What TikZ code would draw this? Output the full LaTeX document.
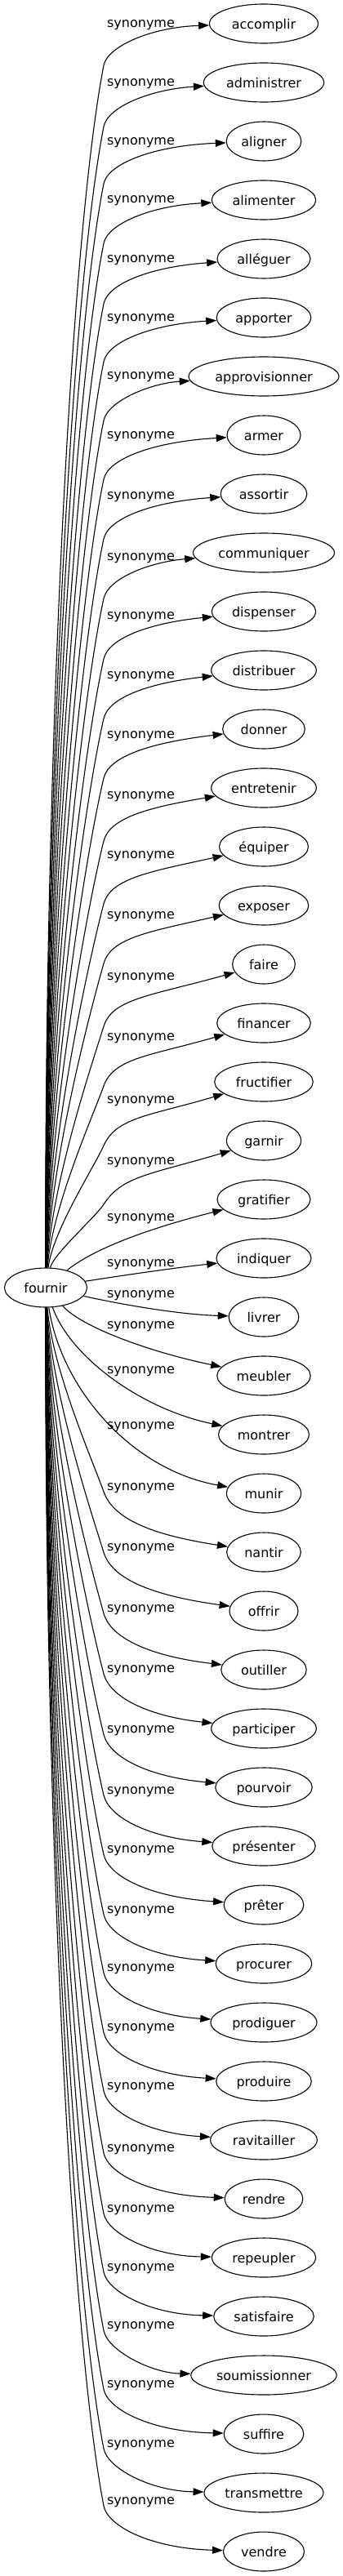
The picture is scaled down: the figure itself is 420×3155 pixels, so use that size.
\documentclass[tikz,border=0pt]{standalone}
\usepackage{fontspec}
\setmainfont{DejaVu Sans}
\usetikzlibrary{shapes.geometric,arrows.meta}
\begin{document}
\begin{tikzpicture}[x=1pt,y=-1pt,
  every node/.style={font=\fontsize{16}{19}\selectfont},
  word/.style={draw, ellipse, inner sep=0pt, minimum height=48pt, text height=13pt, text depth=0pt, line width=1.1pt},
  lbl/.style={inner sep=0pt, text height=11pt, text depth=0pt},
  syn/.style={line width=1.1pt, -{Triangle[length=13pt,width=9pt]}}]
\useasboundingbox (0,0) rectangle (420,3155);
\node[word, minimum width=101pt] (fournir) at (56,1577) {fournir};
\foreach \i/\word/\rx/\ly in {0/accomplir/66.5/28.3, 1/administrer/73.7/100, 2/aligner/45.8/172.3, 3/alimenter/63.7/243.3, 4/alléguer/57/315.7, 5/apporter/57.8/387.7, 6/approvisionner/92/459.3, 7/armer/45/532.3, 8/assortir/52.8/605.7, 9/communiquer/86.5/680.7, 10/dispenser/63.7/752.7, 11/distribuer/64.3/825.7, 12/donner/50.3/899.3, 13/entretenir/64.3/972.7, 14/équiper/54.5/1045.7, 15/exposer/54.8/1120, 16/faire/38.3/1195, 17/financer/57.3/1269.3, 18/fructifier/60.3/1345.7, 19/garnir/45.7/1421, 20/gratifier/57/1490, 21/indiquer/58/1545.7, 22/livrer/42.8/1584, 23/meubler/57.2/1622.3, 24/montrer/55.5/1677.3, 25/munir/45.7/1745, 26/nantir/45.3/1820, 27/offrir/42/1894.3, 28/outiller/52.2/1969, 29/participer/64.3/2043, 30/pourvoir/59.2/2117.3, 31/présenter/63.2/2191.7, 32/prêter/48.8/2264.3, 33/procurer/58.8/2337.7, 34/prodiguer/65/2409.3, 35/produire/58.3/2482.3, 36/ravitailler/65.3/2554, 37/rendre/47.8/2630, 38/repeupler/63.7/2704, 39/satisfaire/61.3/2775.7, 40/soumissionner/89.2/2847.3, 41/suffire/48.8/2919.3, 42/transmettre/73/2992, 43/vendre/49.5/3062} {
  \pgfmathsetmacro\tY{29+72*\i}
  \pgfmathsetmacro\wW{2*\rx}
  \node[word, minimum width=\wW pt] (t\i) at (323,\tY) {\word};
  \node[lbl] (l\i) at (172.5,\ly) {synonyme};
}
% edges going up
\foreach \i/\cy in {0/80, 1/155, 2/225, 3/298, 4/372, 5/443, 6/515, 7/587, 8/660, 9/733, 10/807, 11/880, 12/953, 13/1030, 14/1107, 15/1180, 16/1257, 17/1330, 18/1403, 19/1475} {
  \pgfmathsetmacro\tY{29+72*\i}
  \pgfmathsetmacro\dD{1577-\cy}
  \pgfmathsetmacro\sl{0.16+0.7*70/\dD}
  \pgfmathsetmacro\xa{54+12*(1-\dD/1500)}
  \pgfmathsetmacro\ya{1577-0.4*\dD}
  \pgfmathsetmacro\xb{127-\sl*0.15*\dD}
  \pgfmathsetmacro\yb{\cy+0.15*\dD}
  \pgfmathsetmacro\dy{\cy-\tY}
  \pgfmathsetmacro\mm{max(0,(\dy-48)*0.01)}
  \pgfmathsetmacro\xc{127+\sl*0.45*\dy}
  \pgfmathsetmacro\yc{\cy-0.45*\dy}
  \pgfmathsetmacro\yd{\tY+138*\mm}
  \coordinate (c\i) at (127,\cy);
  \draw[syn] (fournir) .. controls (\xa,\ya) and (\xb,\yb) .. (c\i) .. controls (\xc,\yc) and (185,\yd) .. (t\i);
}
% edges going down
\foreach \i/\ly in {26/1820, 27/1894.3, 28/1969, 29/2043, 30/2117.3, 31/2191.7, 32/2264.3, 33/2337.7, 34/2409.3, 35/2482.3, 36/2554, 37/2630, 38/2704, 39/2775.7, 40/2847.3, 41/2919.3, 42/2992, 43/3062} {
  \pgfmathsetmacro\tY{29+72*\i}
  \pgfmathsetmacro\cy{\ly+7}
  \pgfmathsetmacro\dD{\cy-1577}
  \pgfmathsetmacro\sl{0.16+0.7*70/\dD}
  \pgfmathsetmacro\xa{54+12*(1-\dD/1500)}
  \pgfmathsetmacro\ya{1577+0.4*\dD}
  \pgfmathsetmacro\xb{127-\sl*0.15*\dD}
  \pgfmathsetmacro\yb{\cy-0.15*\dD}
  \pgfmathsetmacro\dy{\tY-\cy}
  \pgfmathsetmacro\mm{max(0,(\dy-52)*0.007)}
  \pgfmathsetmacro\xc{127+\sl*0.45*\dy}
  \pgfmathsetmacro\yc{\cy+0.45*\dy}
  \pgfmathsetmacro\yd{\tY-138*\mm}
  \coordinate (c\i) at (127,\cy);
  \draw[syn] (fournir) .. controls (\xa,\ya) and (\xb,\yb) .. (c\i) .. controls (\xc,\yc) and (185,\yd) .. (t\i);
}
% edges near the source
\draw[syn] (fournir) .. controls (120,1525) and (200,1500) .. (t20);
\draw[syn] (fournir) .. controls (150,1562) and (220,1552) .. (t21);
\draw[syn] (fournir) .. controls (150,1598) and (220,1610) .. (t22);
\draw[syn] (fournir) .. controls (100,1625) and (180,1655) .. (t23);
\draw[syn] (fournir) .. controls (85,1660) and (170,1725) .. (t24);
\draw[syn] (fournir) .. controls (75,1700) and (160,1800) .. (t25);
\end{tikzpicture}
\end{document}
